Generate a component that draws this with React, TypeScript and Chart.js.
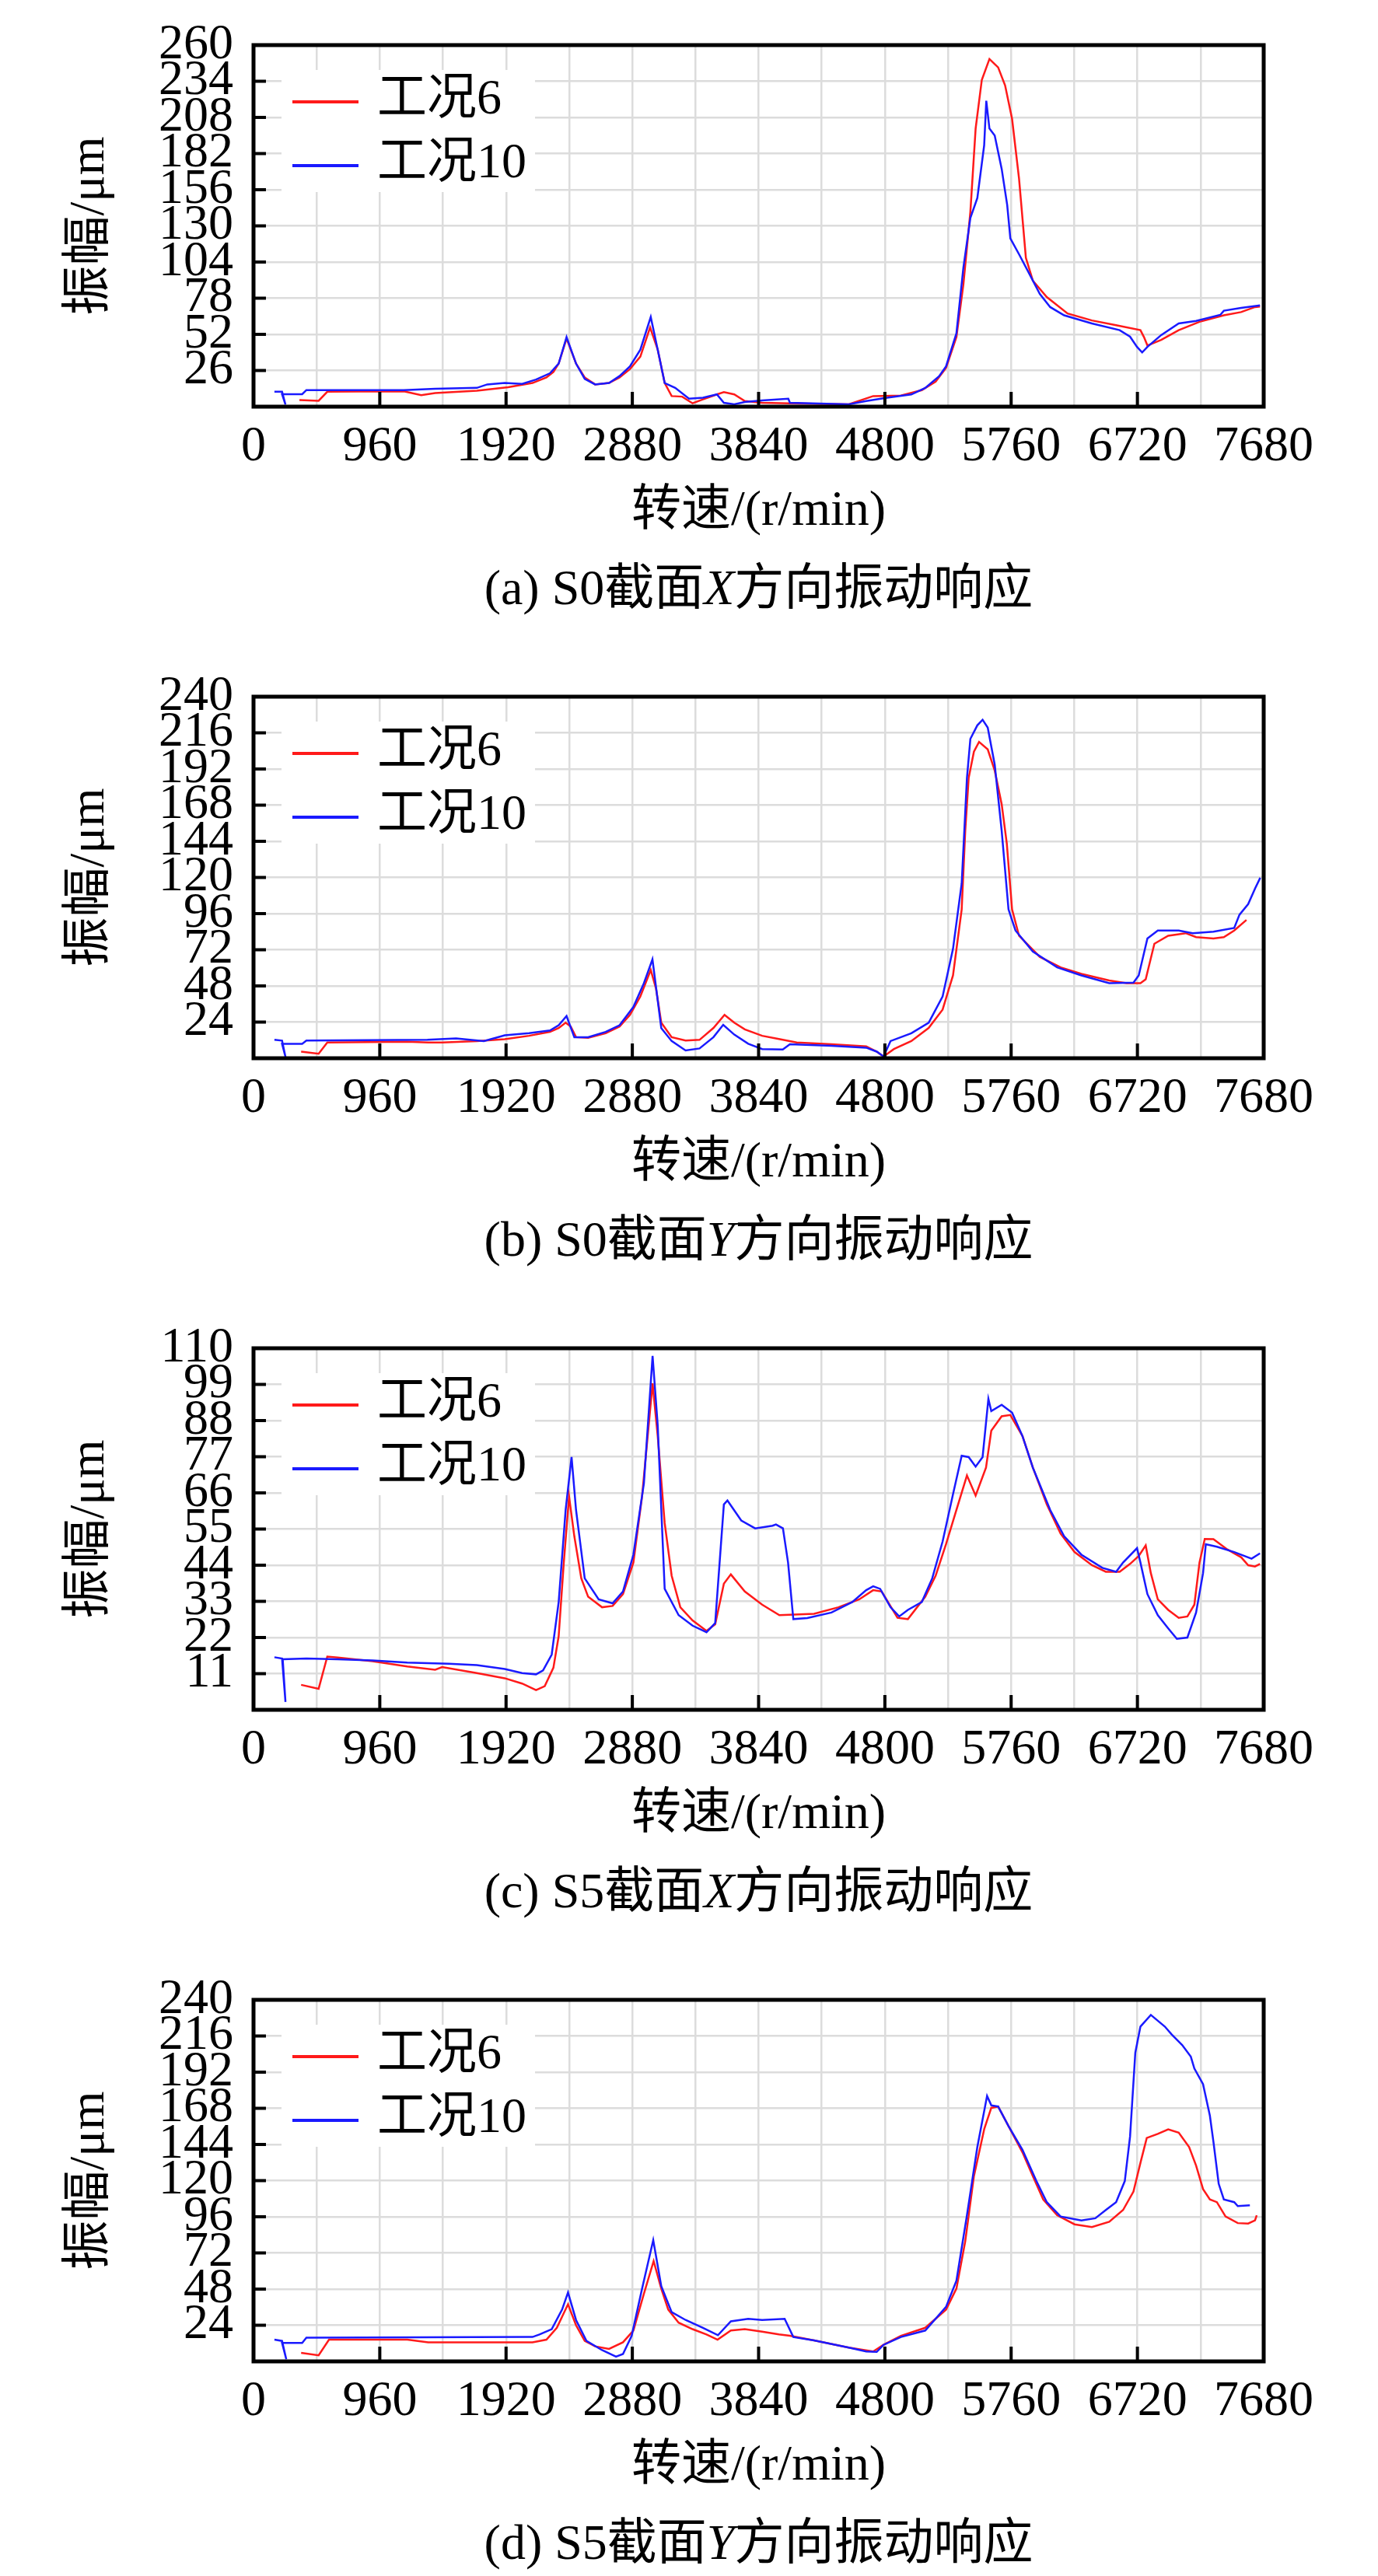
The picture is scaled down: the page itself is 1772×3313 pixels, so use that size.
import { useEffect, useRef } from "react";
import { Chart, registerables } from "chart.js";

Chart.register(...registerables);

const FONT = '"Liberation Serif", "Times New Roman", "Noto Sans CJK SC", serif';

// shared axis ticks
const speedTicks = [0, 960, 1920, 2880, 3840, 4800, 5760, 6720, 7680];
const seriesLabels = ["工况6", "工况10"];

// (a) S0 X
const aSpeed6 = [349, 495, 561, 800, 1143, 1275, 1381, 1698, 1936, 2121, 2227, 2280, 2320, 2380, 2452, 2518, 2597, 2703, 2783, 2862, 2941, 3015, 3073, 3126, 3179, 3259, 3338, 3417, 3523, 3576, 3655, 3735, 3867, 4077, 4526, 4711, 4922, 5081, 5186, 5265, 5344, 5397, 5450, 5490, 5537, 5595, 5661, 5714, 5767, 5820, 5872, 5925, 6031, 6189, 6374, 6558, 6743, 6770, 6796, 6901, 7034, 7192, 7377, 7508, 7614, 7652];
const aAmp6 = [4.7, 4.2, 10.7, 10.9, 11, 8.3, 9.8, 11.5, 14, 17, 21, 25, 31, 49, 31, 21, 16, 17, 21, 27, 36, 57, 41, 17, 7.6, 7.2, 2.4, 5.2, 8.8, 10.4, 8.8, 4, 2.8, 2.4, 1.7, 7.6, 8, 11.9, 18, 27.8, 50, 88, 140, 200, 235, 250, 244, 231, 207, 164, 107, 90.6, 78.8, 67, 62, 58.6, 55, 50, 44, 48, 55, 61, 65.7, 68, 71.6, 72];
const aSpeed10 = [159, 217, 243, 217, 370, 402, 1143, 1381, 1698, 1777, 1910, 2042, 2148, 2254, 2320, 2380, 2452, 2518, 2597, 2703, 2783, 2862, 2941, 3020, 3073, 3126, 3206, 3311, 3417, 3523, 3576, 3655, 3735, 3867, 4066, 4078, 4526, 4658, 4817, 5001, 5107, 5212, 5265, 5344, 5397, 5450, 5503, 5555, 5571, 5595, 5635, 5688, 5730, 5754, 5820, 5899, 5978, 6057, 6163, 6374, 6585, 6664, 6717, 6756, 6796, 6901, 7034, 7166, 7350, 7377, 7508, 7652];
const aAmp10 = [10.7, 10.7, 1.5, 9, 9, 11.9, 11.9, 12.8, 13.5, 16, 17, 16.4, 19.5, 24, 31, 50, 31, 20, 16, 17, 22, 29, 41, 64.5, 41, 17, 13.5, 5.7, 6.4, 8.8, 2.8, 1.7, 3.3, 4.5, 5.7, 2.8, 1.7, 4, 6.4, 8.8, 13.5, 21.8, 29, 52.7, 100, 135.7, 150, 188, 220, 200, 195, 171, 145, 121, 109.6, 95.4, 81, 71.6, 65.7, 59.8, 55, 50.3, 43, 39, 43, 51.5, 59.8, 61.7, 66, 69, 71, 72.8];

// (b) S0 Y
const bSpeed6 = [362, 495, 561, 1169, 1328, 1434, 1698, 1910, 2095, 2254, 2320, 2373, 2412, 2452, 2544, 2677, 2783, 2862, 2941, 3020, 3060, 3100, 3179, 3285, 3391, 3497, 3581, 3655, 3735, 3867, 3994, 4130, 4394, 4658, 4738, 4790, 4869, 5001, 5133, 5239, 5318, 5384, 5411, 5437, 5477, 5516, 5582, 5635, 5688, 5727, 5767, 5820, 5978, 6136, 6294, 6506, 6638, 6743, 6783, 6849, 6954, 7087, 7166, 7298, 7377, 7456, 7549];
const bAmp6 = [4.4, 3, 10.5, 11, 10.5, 10.5, 11.4, 12.6, 14.9, 17.5, 20, 23.6, 21, 14, 13.5, 16.6, 21, 28.8, 41, 58.6, 46.3, 23.6, 14, 11.7, 12.2, 20.1, 28.8, 23.6, 19.2, 14.9, 12.8, 10.5, 9.3, 7.9, 4.4, 1.2, 6.1, 11.4, 20.1, 32.3, 55, 98.8, 151, 186, 203.5, 210, 205, 191, 168.7, 142.5, 98.8, 81.3, 67.3, 60.3, 56, 51.6, 49.8, 49.8, 52.4, 76, 81.3, 83, 80.4, 79.5, 80.4, 84.8, 91.8];
const bSpeed10 = [159, 217, 243, 217, 370, 402, 1322, 1540, 1751, 1910, 2095, 2254, 2320, 2380, 2439, 2544, 2677, 2783, 2888, 2968, 3033, 3100, 3179, 3285, 3391, 3497, 3571, 3655, 3761, 3867, 4024, 4078, 4394, 4658, 4738, 4790, 4843, 5001, 5133, 5239, 5318, 5384, 5424, 5450, 5503, 5543, 5582, 5635, 5688, 5740, 5793, 5925, 6110, 6294, 6506, 6690, 6730, 6796, 6875, 7034, 7140, 7298, 7456, 7496, 7562, 7615, 7654];
const bAmp10 = [12.2, 11.7, 0.9, 9.6, 9.6, 11.7, 12.2, 13.1, 11.4, 15.2, 16.6, 18.4, 21.9, 28, 14, 14, 17.5, 21.9, 34, 49.8, 65.6, 20, 11.4, 5.2, 6.5, 14, 22.2, 15.7, 9.6, 6.1, 5.8, 9.3, 8.2, 7, 4.4, 1.2, 11.4, 16.6, 23.6, 41, 72.6, 116, 186, 212, 221, 224.7, 219.5, 195, 151, 98.8, 84.8, 70.8, 60.3, 55, 49.8, 50.2, 55, 79.5, 84.8, 84.8, 83, 84, 86.5, 95.3, 102.3, 112.8, 119.8];

// (c) S5 X
const cSpeed6 = [362, 495, 561, 640, 905, 1169, 1381, 1434, 1698, 1910, 2042, 2148, 2214, 2280, 2320, 2359, 2399, 2439, 2492, 2544, 2650, 2730, 2809, 2888, 2954, 3034, 3073, 3126, 3179, 3245, 3338, 3444, 3510, 3576, 3629, 3735, 3867, 3998, 4262, 4447, 4605, 4711, 4776, 4896, 4975, 5107, 5186, 5265, 5344, 5424, 5490, 5569, 5609, 5688, 5754, 5846, 5925, 6031, 6136, 6242, 6374, 6480, 6585, 6664, 6730, 6783, 6822, 6875, 6954, 7034, 7100, 7153, 7192, 7232, 7298, 7403, 7509, 7562, 7614, 7652];
const cAmp6 = [7.6, 6.4, 16.2, 15.9, 14.8, 13.2, 12.2, 13, 11.2, 9.6, 8, 6, 7.2, 12.8, 22.4, 44.8, 64.9, 52.8, 40, 34.4, 31.2, 31.6, 35.2, 44.8, 64.9, 99.3, 83.3, 56.8, 40.8, 31.2, 27.2, 24, 26, 38.4, 41.2, 36, 32, 28.8, 29.2, 31.2, 33.6, 36.4, 36, 28, 27.6, 34.4, 40.8, 50.4, 60.8, 71.3, 65.2, 73.7, 84.9, 89.3, 89.7, 83.3, 73.7, 62.5, 53.6, 48, 44, 42, 42, 44.4, 46.8, 50, 41.6, 33.6, 30.4, 28, 28.4, 32, 44.8, 52, 51.9, 48.8, 46.4, 44, 43.6, 44.4];
const cSpeed10 = [159, 217, 243, 222, 402, 640, 905, 1169, 1487, 1698, 1910, 2042, 2148, 2201, 2267, 2320, 2373, 2418, 2452, 2518, 2624, 2730, 2809, 2888, 2968, 3034, 3073, 3126, 3232, 3338, 3444, 3510, 3576, 3603, 3708, 3814, 3946, 3972, 4025, 4064, 4104, 4210, 4394, 4552, 4658, 4711, 4764, 4843, 4909, 4975, 5081, 5160, 5239, 5318, 5384, 5437, 5490, 5543, 5587, 5609, 5688, 5767, 5846, 5925, 6057, 6163, 6294, 6453, 6558, 6611, 6717, 6743, 6796, 6875, 6954, 7020, 7100, 7166, 7219, 7240, 7324, 7456, 7588, 7652];
const cAmp10 = [16, 15.6, 2.4, 15.4, 15.6, 15.4, 15, 14.4, 14, 13.6, 12.4, 11.2, 10.8, 12, 16.8, 32.8, 60.8, 76.9, 60.8, 40, 33.6, 32.4, 36, 47.2, 68.9, 107.7, 86.5, 36.8, 28.8, 25.6, 23.6, 26.4, 62.5, 63.7, 57.6, 55.2, 56, 56.4, 55.2, 44.8, 27.6, 27.9, 29.6, 32.8, 36.4, 37.6, 36.8, 31.2, 28.4, 30.4, 32.8, 40, 51.2, 65.6, 77.3, 76.9, 74, 76.9, 94.6, 90.9, 92.8, 90.4, 83.3, 73.7, 60.8, 52.8, 47.2, 43.2, 42, 44.8, 49.2, 44.8, 35.2, 28.8, 24.8, 21.6, 22, 29.6, 41.6, 50.4, 49.6, 48, 46, 47.6];

// (d) S5 Y
const dSpeed6 = [362, 495, 574, 905, 1169, 1328, 1698, 2121, 2227, 2306, 2391, 2452, 2518, 2597, 2703, 2809, 2888, 2968, 3042, 3100, 3153, 3232, 3338, 3444, 3528, 3629, 3735, 3867, 3994, 4078, 4262, 4526, 4711, 4790, 4922, 5107, 5265, 5344, 5411, 5477, 5556, 5609, 5661, 5740, 5846, 5925, 6004, 6110, 6242, 6374, 6506, 6611, 6690, 6743, 6791, 6875, 6954, 7034, 7113, 7166, 7219, 7271, 7324, 7390, 7483, 7562, 7614, 7627];
const dAmp6 = [5.7, 4, 14.4, 14.4, 14.4, 12.7, 12.7, 12.7, 14.4, 22.3, 37.9, 24, 13.6, 10, 8.3, 12.7, 20.5, 44.9, 66.6, 48.3, 34.4, 25.7, 21.4, 17.9, 14.4, 20.5, 21.4, 19.7, 17.9, 17, 13.9, 9.2, 6.6, 11, 17, 22.3, 34.4, 48.3, 79.7, 123, 154.4, 168.3, 169.2, 156.2, 138.8, 123, 107.5, 97, 91, 89.2, 92.7, 100.5, 112.7, 131.8, 148.3, 151, 154, 151.8, 142.3, 130, 114.4, 107.5, 105.7, 96.2, 91.8, 91.5, 93.6, 97];
const dSpeed10 = [159, 217, 249, 217, 370, 402, 2121, 2174, 2267, 2346, 2391, 2452, 2531, 2650, 2756, 2809, 2875, 2954, 3039, 3100, 3179, 3285, 3417, 3531, 3629, 3761, 3867, 4038, 4104, 4262, 4526, 4658, 4738, 4790, 4922, 5107, 5265, 5344, 5424, 5503, 5577, 5609, 5661, 5740, 5846, 5952, 6031, 6136, 6294, 6400, 6480, 6558, 6624, 6664, 6704, 6743, 6822, 6928, 6981, 7060, 7126, 7153, 7219, 7271, 7298, 7338, 7377, 7456, 7483, 7575];
const dAmp10 = [14.4, 13.6, 1.4, 12.3, 12.3, 15.7, 16.2, 17.9, 21.4, 34.4, 45.7, 27.5, 13.6, 7.5, 3.1, 4.9, 17, 48.3, 80.5, 50, 32.7, 27.5, 22.3, 17.4, 26.6, 28.3, 27.5, 28.3, 16.2, 13.9, 9.2, 6.6, 6.3, 11, 16.2, 20.5, 36.2, 53.6, 97, 142.3, 176.2, 170, 169.2, 156.2, 140.5, 119.7, 105.7, 96.2, 93.6, 95, 100.5, 105.7, 119.7, 149.2, 204.9, 222.3, 230, 222.3, 217, 210, 202.3, 194.4, 184, 163.1, 145.7, 117.9, 107.5, 105.7, 103.1, 103.6];

const panels = [
  { s6: aSpeed6, a6: aAmp6, s10: aSpeed10, a10: aAmp10, yMax: 260, yStep: 26, pre: "(a) S0截面", axis: "X" },
  { s6: bSpeed6, a6: bAmp6, s10: bSpeed10, a10: bAmp10, yMax: 240, yStep: 24, pre: "(b) S0截面", axis: "Y" },
  { s6: cSpeed6, a6: cAmp6, s10: cSpeed10, a10: cAmp10, yMax: 110, yStep: 11, pre: "(c) S5截面", axis: "X" },
  { s6: dSpeed6, a6: dAmp6, s10: dSpeed10, a10: dAmp10, yMax: 240, yStep: 24, pre: "(d) S5截面", axis: "Y" },
];

const zip = (xs: number[], ys: number[]) => xs.map((x, i) => ({ x, y: ys[i] }));

// box frame, inward tick marks and the legend inside the plot
const framePlugin = {
  id: "frame",
  afterDatasetsDraw(chart: any) {
    const { ctx, chartArea: ca } = chart;
    const xs = chart.scales.x;
    const ys = chart.scales.y;
    ctx.save();

    // legend
    const lx = ca.left + 36;
    const ly = ca.top + 32;
    ctx.fillStyle = "#fff";
    ctx.fillRect(lx, ly, 326, 157);
    chart.data.datasets.forEach((ds: any, i: number) => {
      const rowY = ca.top + 73 + i * 82;
      ctx.strokeStyle = ds.borderColor;
      ctx.lineWidth = 4;
      ctx.beginPath();
      ctx.moveTo(ca.left + 50, rowY);
      ctx.lineTo(ca.left + 135, rowY);
      ctx.stroke();
      ctx.fillStyle = "#000";
      ctx.font = `64px ${FONT}`;
      ctx.textBaseline = "middle";
      ctx.textAlign = "left";
      ctx.fillText(ds.label, ca.left + 159, rowY - 2);
    });

    // inward ticks
    ctx.strokeStyle = "#000";
    ctx.lineWidth = 4;
    ctx.beginPath();
    ys.ticks.forEach((t: any) => {
      if (t.value <= ys.min || t.value >= ys.max) return;
      const py = ys.getPixelForValue(t.value);
      ctx.moveTo(ca.left, py);
      ctx.lineTo(ca.left + 16, py);
    });
    speedTicks.forEach((v) => {
      if (v <= xs.min || v >= xs.max) return;
      const px = xs.getPixelForValue(v);
      ctx.moveTo(px, ca.bottom);
      ctx.lineTo(px, ca.bottom - 19);
    });
    ctx.stroke();

    // frame
    ctx.lineWidth = 5;
    ctx.strokeRect(ca.left, ca.top, ca.right - ca.left, ca.bottom - ca.top);
    ctx.restore();
  },
};

interface PanelProps {
  s6: number[];
  a6: number[];
  s10: number[];
  a10: number[];
  yMax: number;
  yStep: number;
  pre: string;
  axis: string;
  top: number;
}

const Panel = ({ s6, a6, s10, a10, yMax, yStep, pre, axis, top }: PanelProps) => {
  const chartRef = useRef<HTMLCanvasElement | null>(null);

  useEffect(() => {
    if (!chartRef.current) return;
    const ctx = chartRef.current.getContext("2d");
    if (!ctx) return;

    const tickFont = { family: FONT, size: 64, lineHeight: 1 };
    const titleFont = { family: FONT, size: 64, lineHeight: 1.2 };

    const myChart = new Chart(ctx, {
      type: "line",
      data: {
        datasets: [
          { label: seriesLabels[0], data: zip(s6, a6), borderColor: "#ff1a1a", order: 1 },
          { label: seriesLabels[1], data: zip(s10, a10), borderColor: "#1a1aff", order: 0 },
        ],
      },
      options: {
        animation: false,
        responsive: false,
        layout: { padding: { top: 34, right: 147, left: 0, bottom: 0 } },
        elements: {
          point: { radius: 0 },
          line: { borderWidth: 2.5, tension: 0, fill: false },
        },
        plugins: { legend: { display: false }, tooltip: { enabled: false } },
        scales: {
          x: {
            type: "linear",
            min: 0,
            max: 7680,
            afterFit: (s: any) => {
              s.height = 197;
            },
            border: { display: false },
            grid: { color: "#dcdcdc", lineWidth: 2.5, drawTicks: false },
            ticks: {
              stepSize: 480,
              autoSkip: false,
              maxRotation: 0,
              minRotation: 0,
              padding: 20,
              color: "#000",
              font: tickFont,
              callback: (v: any) => (speedTicks.includes(Number(v)) ? String(v) : ""),
            },
            title: {
              display: true,
              text: "转速/(r/min)",
              color: "#000",
              font: titleFont,
              padding: { top: 0, bottom: 23 },
            },
          },
          y: {
            type: "linear",
            min: 0,
            max: yMax,
            afterFit: (s: any) => {
              s.width = 326;
            },
            border: { display: false },
            grid: { color: "#dcdcdc", lineWidth: 2.5, drawTicks: false },
            ticks: {
              stepSize: yStep,
              autoSkip: false,
              padding: 26,
              color: "#000",
              font: tickFont,
              callback: (v: any) => (Number(v) === 0 ? "" : String(v)),
            },
            title: {
              display: true,
              text: "振幅/μm",
              color: "#000",
              font: titleFont,
              padding: { top: 78, bottom: 0 },
            },
          },
        },
      },
      plugins: [framePlugin],
    });

    return () => {
      myChart.destroy();
    };
  }, []);

  return (
    <div style={{ position: "absolute", left: 0, top, width: 1772, height: 838 }}>
      <canvas ref={chartRef} width={1772} height={720} style={{ width: 1772, height: 720, display: "block" }}></canvas>
      <div
        style={{
          position: "absolute",
          top: 720,
          left: 326,
          width: 1299,
          textAlign: "center",
          fontFamily: FONT,
          fontSize: 64,
          lineHeight: "72px",
          color: "#000",
          whiteSpace: "nowrap",
        }}
      >
        {pre}
        <i>{axis}</i>
        方向振动响应
      </div>
    </div>
  );
};

export default function App() {
  useEffect(() => {
    document.body.style.margin = "0";
  }, []);

  return (
    <div style={{ position: "relative", width: 1772, height: 3313, overflow: "hidden", background: "#fff" }}>
      {panels.map((p, i) => (
        <Panel key={i} {...p} top={i * 838} />
      ))}
    </div>
  );
}
